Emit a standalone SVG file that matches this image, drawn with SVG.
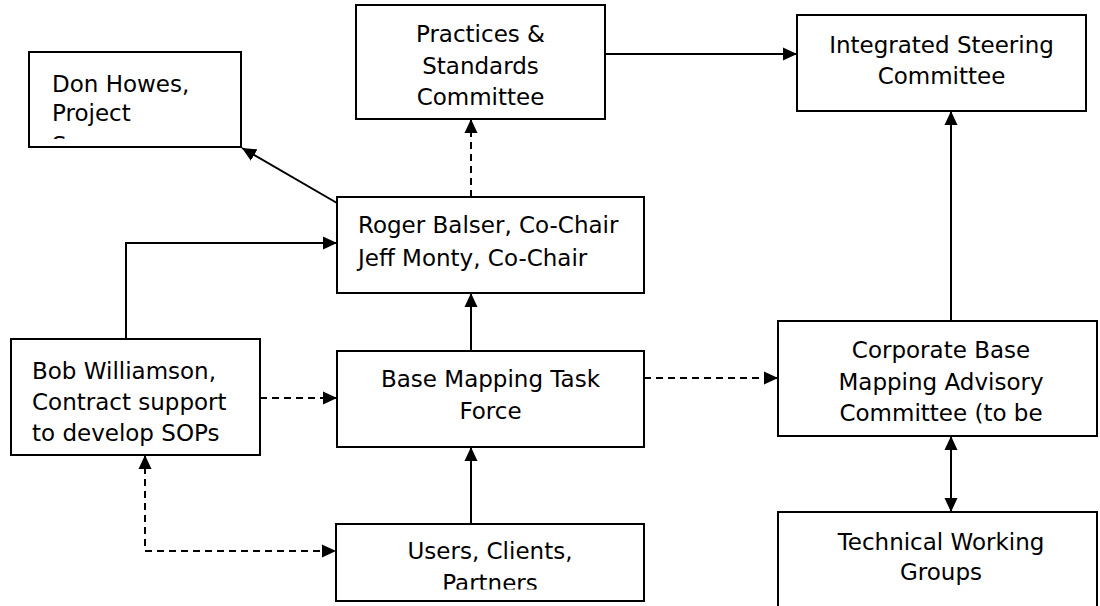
<svg xmlns="http://www.w3.org/2000/svg" width="1100" height="606" viewBox="0 0 1100 606">
<defs>
<style>
.box{fill:#fff;stroke:#000;stroke-width:2}
.t{font-family:"DejaVu Sans","Liberation Sans",sans-serif;font-size:23px;fill:#000}
.c{text-anchor:middle}
.ln{fill:none;stroke:#000;stroke-width:2}
.d{stroke-dasharray:7 5}
</style>
<marker id="ah" viewBox="0 0 14 14" refX="14" refY="7" markerWidth="14" markerHeight="14" markerUnits="userSpaceOnUse" orient="auto-start-reverse">
<path d="M0,0.5 L14,7 L0,13.5 Z" fill="#000"/>
</marker>
<clipPath id="cDon"><rect x="29" y="52" width="212" height="87"/></clipPath>
<clipPath id="cUsers"><rect x="336" y="524" width="308" height="65.5"/></clipPath>
<clipPath id="cCorp"><rect x="778" y="321" width="319" height="108"/></clipPath>
</defs>
<rect width="1100" height="606" fill="#fff"/>

<g id="connectors">
<line class="ln" x1="605" y1="54" x2="797" y2="54" marker-end="url(#ah)"/>
<line class="ln" x1="337" y1="203" x2="242" y2="148" marker-end="url(#ah)"/>
<line class="ln d" x1="471" y1="197" x2="471" y2="119" marker-end="url(#ah)"/>
<polyline class="ln" points="126,339 126,243 337,243" marker-end="url(#ah)"/>
<line class="ln" x1="471" y1="351" x2="471" y2="293" marker-end="url(#ah)"/>
<line class="ln d" x1="260" y1="398" x2="337" y2="398" marker-end="url(#ah)"/>
<line class="ln d" x1="644" y1="378" x2="778" y2="378" marker-end="url(#ah)"/>
<line class="ln" x1="951" y1="321" x2="951" y2="111" marker-end="url(#ah)"/>
<line class="ln" x1="951" y1="436" x2="951" y2="512" marker-start="url(#ah)" marker-end="url(#ah)"/>
<line class="ln" x1="471" y1="524" x2="471" y2="447" marker-end="url(#ah)"/>
<polyline class="ln d" points="145,455 145,551 336,551" marker-start="url(#ah)" marker-end="url(#ah)"/>
</g>

<g id="don">
<rect class="box" x="29" y="52" width="212" height="95"/>
<g clip-path="url(#cDon)">
<text class="t" x="52" y="92">Don Howes,</text>
<text class="t" x="52" y="121">Project</text>
<text class="t" x="52" y="152.5">Sponsor</text>
</g>
</g>

<g id="practices">
<rect class="box" x="356" y="5" width="249" height="114"/>
<text class="t c" x="480.5" y="42">Practices &amp;</text>
<text class="t c" x="480.5" y="74">Standards</text>
<text class="t c" x="480.5" y="105">Committee</text>
</g>

<g id="steering">
<rect class="box" x="797" y="15" width="289" height="96"/>
<text class="t c" x="941.5" y="53">Integrated Steering</text>
<text class="t c" x="941.5" y="84">Committee</text>
</g>

<g id="chairs">
<rect class="box" x="337" y="197" width="307" height="96"/>
<text class="t" x="358" y="233">Roger Balser, Co-Chair</text>
<text class="t" x="358" y="266">Jeff Monty, Co-Chair</text>
</g>

<g id="bob">
<rect class="box" x="11" y="339" width="249" height="116"/>
<text class="t" x="32" y="379">Bob Williamson,</text>
<text class="t" x="32" y="410">Contract support</text>
<text class="t" x="32" y="441">to develop SOPs</text>
</g>

<g id="taskforce">
<rect class="box" x="337" y="351" width="307" height="96"/>
<text class="t c" x="490.5" y="387">Base Mapping Task</text>
<text class="t c" x="490.5" y="419">Force</text>
</g>

<g id="corporate">
<rect class="box" x="778" y="321" width="319" height="115"/>
<g clip-path="url(#cCorp)">
<text class="t c" x="941" y="358">Corporate Base</text>
<text class="t c" x="941" y="390">Mapping Advisory</text>
<text class="t c" x="941" y="421">Committee (to be</text>
</g>
</g>

<g id="technical">
<rect class="box" x="778" y="512" width="319" height="110"/>
<text class="t c" x="941" y="550">Technical Working</text>
<text class="t c" x="941" y="580">Groups</text>
</g>

<g id="users">
<rect class="box" x="336" y="524" width="308" height="77"/>
<g clip-path="url(#cUsers)">
<text class="t c" x="490" y="559">Users, Clients,</text>
<text class="t c" x="490" y="590.5">Partners</text>
</g>
</g>
</svg>
